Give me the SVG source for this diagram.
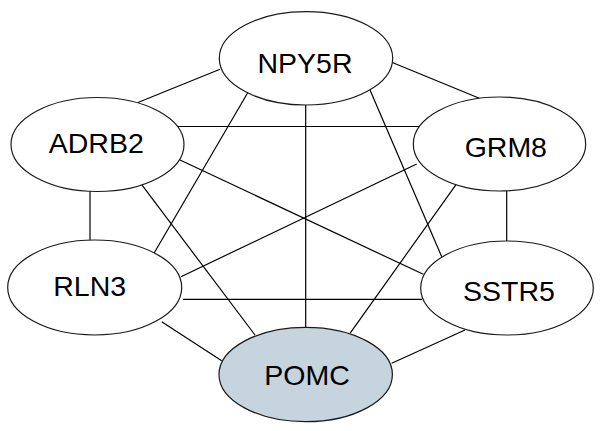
<svg xmlns="http://www.w3.org/2000/svg" width="600" height="431" viewBox="0 0 600 431">
<style>
.e{stroke:#1a1a1a;stroke-width:1.2;fill:#fff}
.q{fill:#c5d4dd}
.t{font-family:"Liberation Sans",Arial,sans-serif;font-size:28.5px;fill:#000;text-anchor:middle}
#edges line{stroke:#000;stroke-width:1.2}
</style>
<rect width="600" height="431" fill="#fff"/>
<g id="edges">
<line x1="220" y1="69.3" x2="137.3" y2="102.7"/>
<line x1="391.7" y1="62.3" x2="479.3" y2="98.3"/>
<line x1="248.3" y1="91.7" x2="154" y2="253.3"/>
<line x1="305.7" y1="104" x2="305.7" y2="328"/>
<line x1="370" y1="90" x2="441.7" y2="256.7"/>
<line x1="177" y1="126.5" x2="422" y2="126.5"/>
<line x1="180" y1="160" x2="423.3" y2="274.3"/>
<line x1="141.7" y1="184.7" x2="255" y2="335"/>
<line x1="90" y1="191" x2="90" y2="241"/>
<line x1="416.7" y1="164" x2="181" y2="276.7"/>
<line x1="456" y1="184.7" x2="350" y2="333.3"/>
<line x1="506.7" y1="190" x2="506.7" y2="242"/>
<line x1="183" y1="299.3" x2="422" y2="299.3"/>
<line x1="161.7" y1="321.7" x2="221.7" y2="360.7"/>
<line x1="465" y1="330" x2="391.7" y2="363.3"/>
</g>
<g id="NPY5R">
<ellipse class="e" cx="306" cy="58.3" rx="86.7" ry="46.7"/>
<text class="t" x="305" y="72.7">NPY5R</text>
</g>
<g id="ADRB2">
<ellipse class="e" cx="97.5" cy="144.5" rx="86.5" ry="47"/>
<text class="t" x="96.3" y="153.3">ADRB2</text>
</g>
<g id="GRM8">
<ellipse class="e" cx="499.5" cy="144" rx="86.2" ry="47"/>
<text class="t" x="505.8" y="156.7">GRM8</text>
</g>
<g id="RLN3">
<ellipse class="e" cx="94.7" cy="287.5" rx="87" ry="47.5"/>
<text class="t" x="89.7" y="295.7">RLN3</text>
</g>
<g id="SSTR5">
<ellipse class="e" cx="507" cy="288" rx="86.3" ry="47"/>
<text class="t" x="509" y="301">SSTR5</text>
</g>
<g id="POMC">
<ellipse class="e q" cx="305.7" cy="374.5" rx="86.7" ry="47.2"/>
<text class="t" x="307" y="385">POMC</text>
</g>
</svg>
